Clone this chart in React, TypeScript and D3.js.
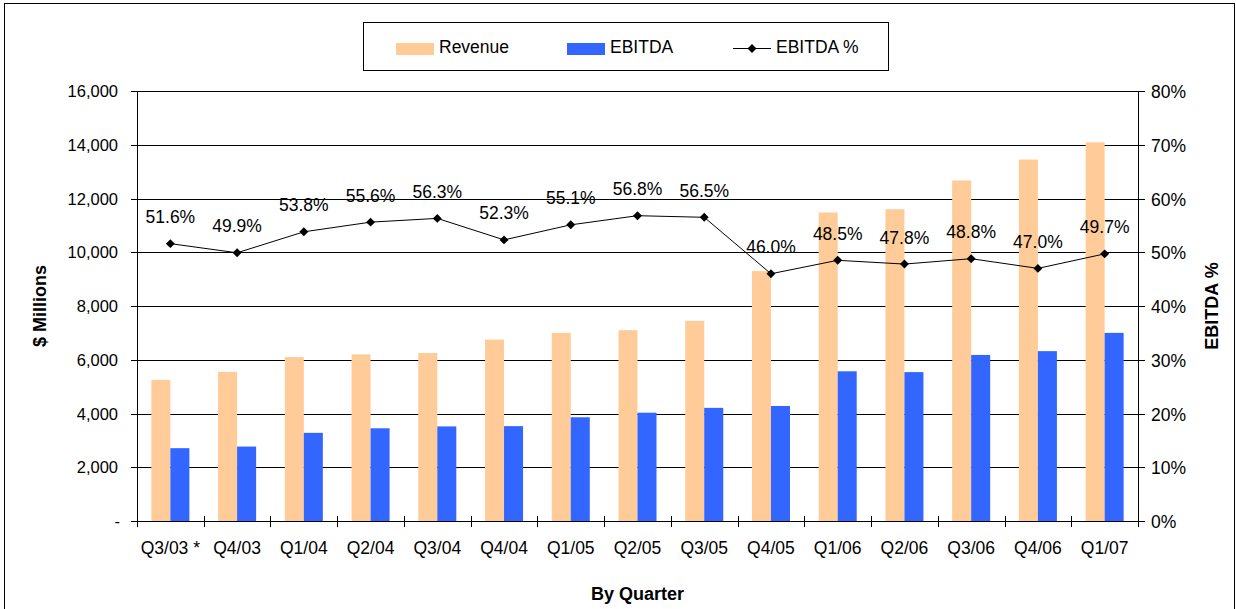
import * as d3 from 'd3'

const quarters = ['Q3/03 *', 'Q4/03', 'Q1/04', 'Q2/04', 'Q3/04', 'Q4/04', 'Q1/05', 'Q2/05', 'Q3/05', 'Q4/05', 'Q1/06', 'Q2/06', 'Q3/06', 'Q4/06', 'Q1/07']
const revenue = [5250, 5550, 6100, 6200, 6250, 6750, 7000, 7100, 7450, 9300, 11480, 11600, 12670, 13450, 14090]
const ebitda = [2710, 2770, 3280, 3450, 3520, 3530, 3860, 4030, 4210, 4280, 5570, 5540, 6180, 6320, 7000]
const ebitdaPct = [51.6, 49.9, 53.8, 55.6, 56.3, 52.3, 55.1, 56.8, 56.5, 46.0, 48.5, 47.8, 48.8, 47.0, 49.7]
const leftTicks = [0, 2000, 4000, 6000, 8000, 10000, 12000, 14000, 16000]
const rightTicks = [0, 10, 20, 30, 40, 50, 60, 70, 80]
const seriesNames = ['Revenue', 'EBITDA']

const W = 1236
const H = 609
const margin = { top: 91, right: 98, bottom: 88, left: 137 }
const FONT = "'Liberation Sans', Arial, sans-serif"
const REV_COLOR = '#FFCC99'
const EB_COLOR = '#3366FF'

export default function App() {
  const innerW = W - margin.left - margin.right
  const innerH = H - margin.top - margin.bottom

  const x = d3.scaleBand<string>().domain(quarters).range([0, innerW]).padding(0)
  const bw = x.bandwidth()
  const x1 = d3.scaleBand<string>().domain(seriesNames).range([0, bw]).paddingInner(0).paddingOuter(0.755)
  const y = d3.scaleLinear().domain([0, 16000]).range([innerH, 0])
  const yR = d3.scaleLinear().domain([0, 80]).range([innerH, 0])

  const fmt = d3.format(',')
  const line = d3.line<number>()
    .x((_, i) => x(quarters[i])! + bw / 2)
    .y(d => yR(d))
  const diamond = d3.symbol(d3.symbolSquare, 40)()!

  return (
    <svg width={W} height={H} style={{ position: 'absolute', left: 0, top: 0, fontFamily: FONT }}>
      <rect x={0} y={0} width={W} height={H} fill="#fff" />
      <rect x={4.5} y={3.5} width={W - 6} height={H + 10} fill="none" stroke="#000" strokeWidth={1} />

      {/* legend */}
      <g>
        <rect x={363.5} y={22.5} width={525} height={48} fill="#fff" stroke="#000" />
        <rect x={396} y={43} width={38} height={12} fill={REV_COLOR} />
        <text x={439} y={53} fontSize={17.5}>Revenue</text>
        <rect x={567} y={43} width={38} height={12} fill={EB_COLOR} />
        <text x={610} y={53} fontSize={17.5}>EBITDA</text>
        <line x1={733} x2={771} y1={48.5} y2={48.5} stroke="#000" />
        <path d={diamond} transform="translate(752,48.5) rotate(45)" fill="#000" />
        <text x={776} y={53} fontSize={17.5}>EBITDA %</text>
      </g>

      <g transform={`translate(${margin.left},${margin.top})`}>
        {/* gridlines */}
        {leftTicks.filter(t => t > 0).map(t => (
          <line key={t} x1={0} x2={innerW} y1={Math.round(y(t)) + 0.5} y2={Math.round(y(t)) + 0.5} stroke="#000" strokeWidth={1} />
        ))}

        {/* bars */}
        {quarters.map((q, i) => (
          <g key={q} transform={`translate(${x(q)},0)`}>
            <rect x={x1('Revenue')} y={y(revenue[i])} width={x1.bandwidth()} height={innerH - y(revenue[i])} fill={REV_COLOR} />
            <rect x={x1('EBITDA')} y={y(ebitda[i])} width={x1.bandwidth()} height={innerH - y(ebitda[i])} fill={EB_COLOR} />
          </g>
        ))}

        {/* line */}
        <path d={line(ebitdaPct)!} fill="none" stroke="#000" strokeWidth={1} />
        {ebitdaPct.map((p, i) => (
          <g key={i} transform={`translate(${x(quarters[i])! + bw / 2},${yR(p)})`}>
            <path d={diamond} transform="rotate(45)" fill="#000" />
            <text y={-20.5} textAnchor="middle" fontSize={17.5} fill="#000">{p.toFixed(1)}%</text>
          </g>
        ))}

        {/* left axis */}
        <line x1={0.5} x2={0.5} y1={0} y2={innerH} stroke="#000" />
        {leftTicks.map(t => (
          <g key={t} transform={`translate(0,${Math.round(y(t)) + 0.5})`}>
            <line x1={-6} x2={0} stroke="#000" />
            <text x={t === 0 ? -17 : -19} dy="0.35em" textAnchor="end" fontSize={16.5}>{t === 0 ? '-' : fmt(t)}</text>
          </g>
        ))}

        {/* right axis */}
        <line x1={innerW + 0.5} x2={innerW + 0.5} y1={0} y2={innerH} stroke="#000" />
        {rightTicks.map(t => (
          <g key={t} transform={`translate(${innerW},${Math.round(yR(t)) + 0.5})`}>
            <line x1={0} x2={7} stroke="#000" />
            <text x={13} dy="0.35em" textAnchor="start" fontSize={17.5}>{t}%</text>
          </g>
        ))}

        {/* bottom axis */}
        <line x1={0} x2={innerW} y1={innerH + 0.5} y2={innerH + 0.5} stroke="#000" />
        {quarters.map(q => (
          <line key={q} x1={Math.round(x(q)!) + 0.5} x2={Math.round(x(q)!) + 0.5} y1={innerH - 5} y2={innerH + 6} stroke="#000" />
        ))}
        <line x1={innerW + 0.5} x2={innerW + 0.5} y1={innerH - 5} y2={innerH + 6} stroke="#000" />
        {quarters.map(q => (
          <text key={q} x={x(q)! + bw / 2} y={innerH + 33} textAnchor="middle" fontSize={17.5}>{q}</text>
        ))}
      </g>

      {/* axis titles */}
      <text transform={`translate(46,${margin.top + innerH / 2}) rotate(-90)`} textAnchor="middle" fontSize={18} fontWeight="bold">$ Millions</text>
      <text transform={`translate(1218,${margin.top + innerH / 2}) rotate(-90)`} textAnchor="middle" fontSize={18} fontWeight="bold">EBITDA %</text>
      <text x={margin.left + innerW / 2} y={600} textAnchor="middle" fontSize={18} fontWeight="bold">By Quarter</text>
    </svg>
  )
}
